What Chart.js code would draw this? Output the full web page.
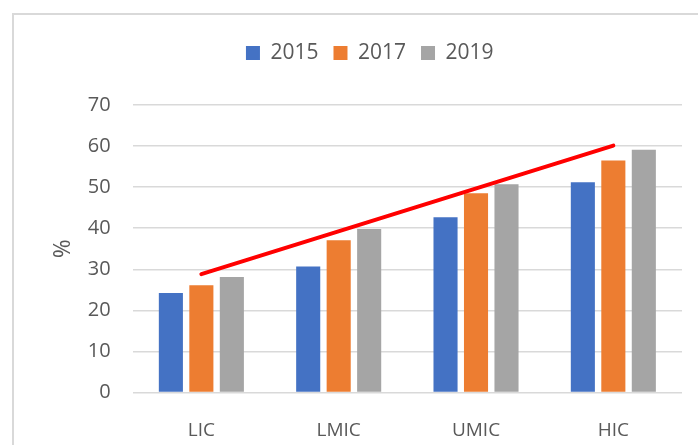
<!DOCTYPE html>
<html>
<head>
<meta charset="utf-8">
<script src="https://cdn.jsdelivr.net/npm/chart.js@4"></script>
<style>
  html, body { margin: 0; padding: 0; background: #ffffff; overflow: hidden; }
  #frame { position: absolute; left: 12px; top: 13px; width: 760px; height: 500px;
           border-left: 2px solid #d9d9d9; border-top: 2px solid #d9d9d9; }
  #wrap { position: absolute; left: 0; top: 0; width: 698px; height: 445px; }
</style>
</head>
<body>
<div id="frame"></div>
<div id="wrap"><canvas id="c" width="698" height="445"></canvas></div>
<script>
// ---- data ----
const categories = ['LIC', 'LMIC', 'UMIC', 'HIC'];
const seriesNames = ['2015', '2017', '2019'];
const values2015 = [24.2, 30.7, 42.7, 51.2];
const values2017 = [26.1, 37.1, 48.5, 56.5];
const values2019 = [28.1, 39.8, 50.7, 59.1];
const trendLine = [28.8, null, null, 60.1];
const yTicks = [0, 10, 20, 30, 40, 50, 60, 70];

const colors = ['#4472C4', '#ED7D31', '#A5A5A5'];
const textColor = '#595959';

Chart.defaults.font.family = "'Open Sans', sans-serif";
Chart.defaults.color = textColor;

const legendSpacer = {
  id: 'legendSpacer',
  beforeInit(chart) {
    const origFit = chart.legend.fit;
    chart.legend.fit = function () {
      origFit.bind(chart.legend)();
      this.height += 31.5;
    };
  }
};

const barCommon = { categoryPercentage: 0.666, barPercentage: 0.79, borderWidth: 0 };

new Chart(document.getElementById('c'), {
  type: 'bar',
  data: {
    labels: categories,
    datasets: [
      { type: 'line', label: 'trend', data: trendLine, spanGaps: true, borderColor: '#FF0000',
        borderWidth: 4, pointRadius: 0, borderCapStyle: 'round', fill: false, order: 0 },
      Object.assign({ label: seriesNames[0], data: values2015, backgroundColor: colors[0], order: 1 }, barCommon),
      Object.assign({ label: seriesNames[1], data: values2017, backgroundColor: colors[1], order: 1 }, barCommon),
      Object.assign({ label: seriesNames[2], data: values2019, backgroundColor: colors[2], order: 1 }, barCommon)
    ]
  },
  options: {
    responsive: false,
    animation: false,
    devicePixelRatio: 1,
    layout: { padding: { left: 57.5, right: 16, top: 27.5, bottom: 0 } },
    plugins: {
      legend: {
        position: 'top',
        labels: {
          boxWidth: 14, boxHeight: 14, padding: 15,
          font: { size: 21 }, color: textColor,
          filter: (item) => item.text !== 'trend'
        }
      },
      tooltip: { enabled: false }
    },
    scales: {
      x: {
        offset: true,
        grid: { display: false },
        border: { display: false },
        ticks: { font: { size: 19 }, color: textColor, padding: 19 },
        afterFit(scale) { scale.height = 52.5; }
      },
      y: {
        min: 0, max: 70,
        afterBuildTicks(scale) { scale.ticks = yTicks.map(v => ({ value: v })); },
        grid: { color: '#d9d9d9', lineWidth: 1.5, drawTicks: false },
        border: { display: false },
        ticks: { font: { size: 20 }, color: textColor, padding: 22 },
        title: { display: true, text: '%', font: { size: 23, lineHeight: 0.55 }, color: textColor,
                 padding: { top: 0, bottom: 0 } },
        afterFit(scale) { scale.width = 75.2; }
      }
    }
  },
  plugins: [legendSpacer]
});
</script>
</body>
</html>
